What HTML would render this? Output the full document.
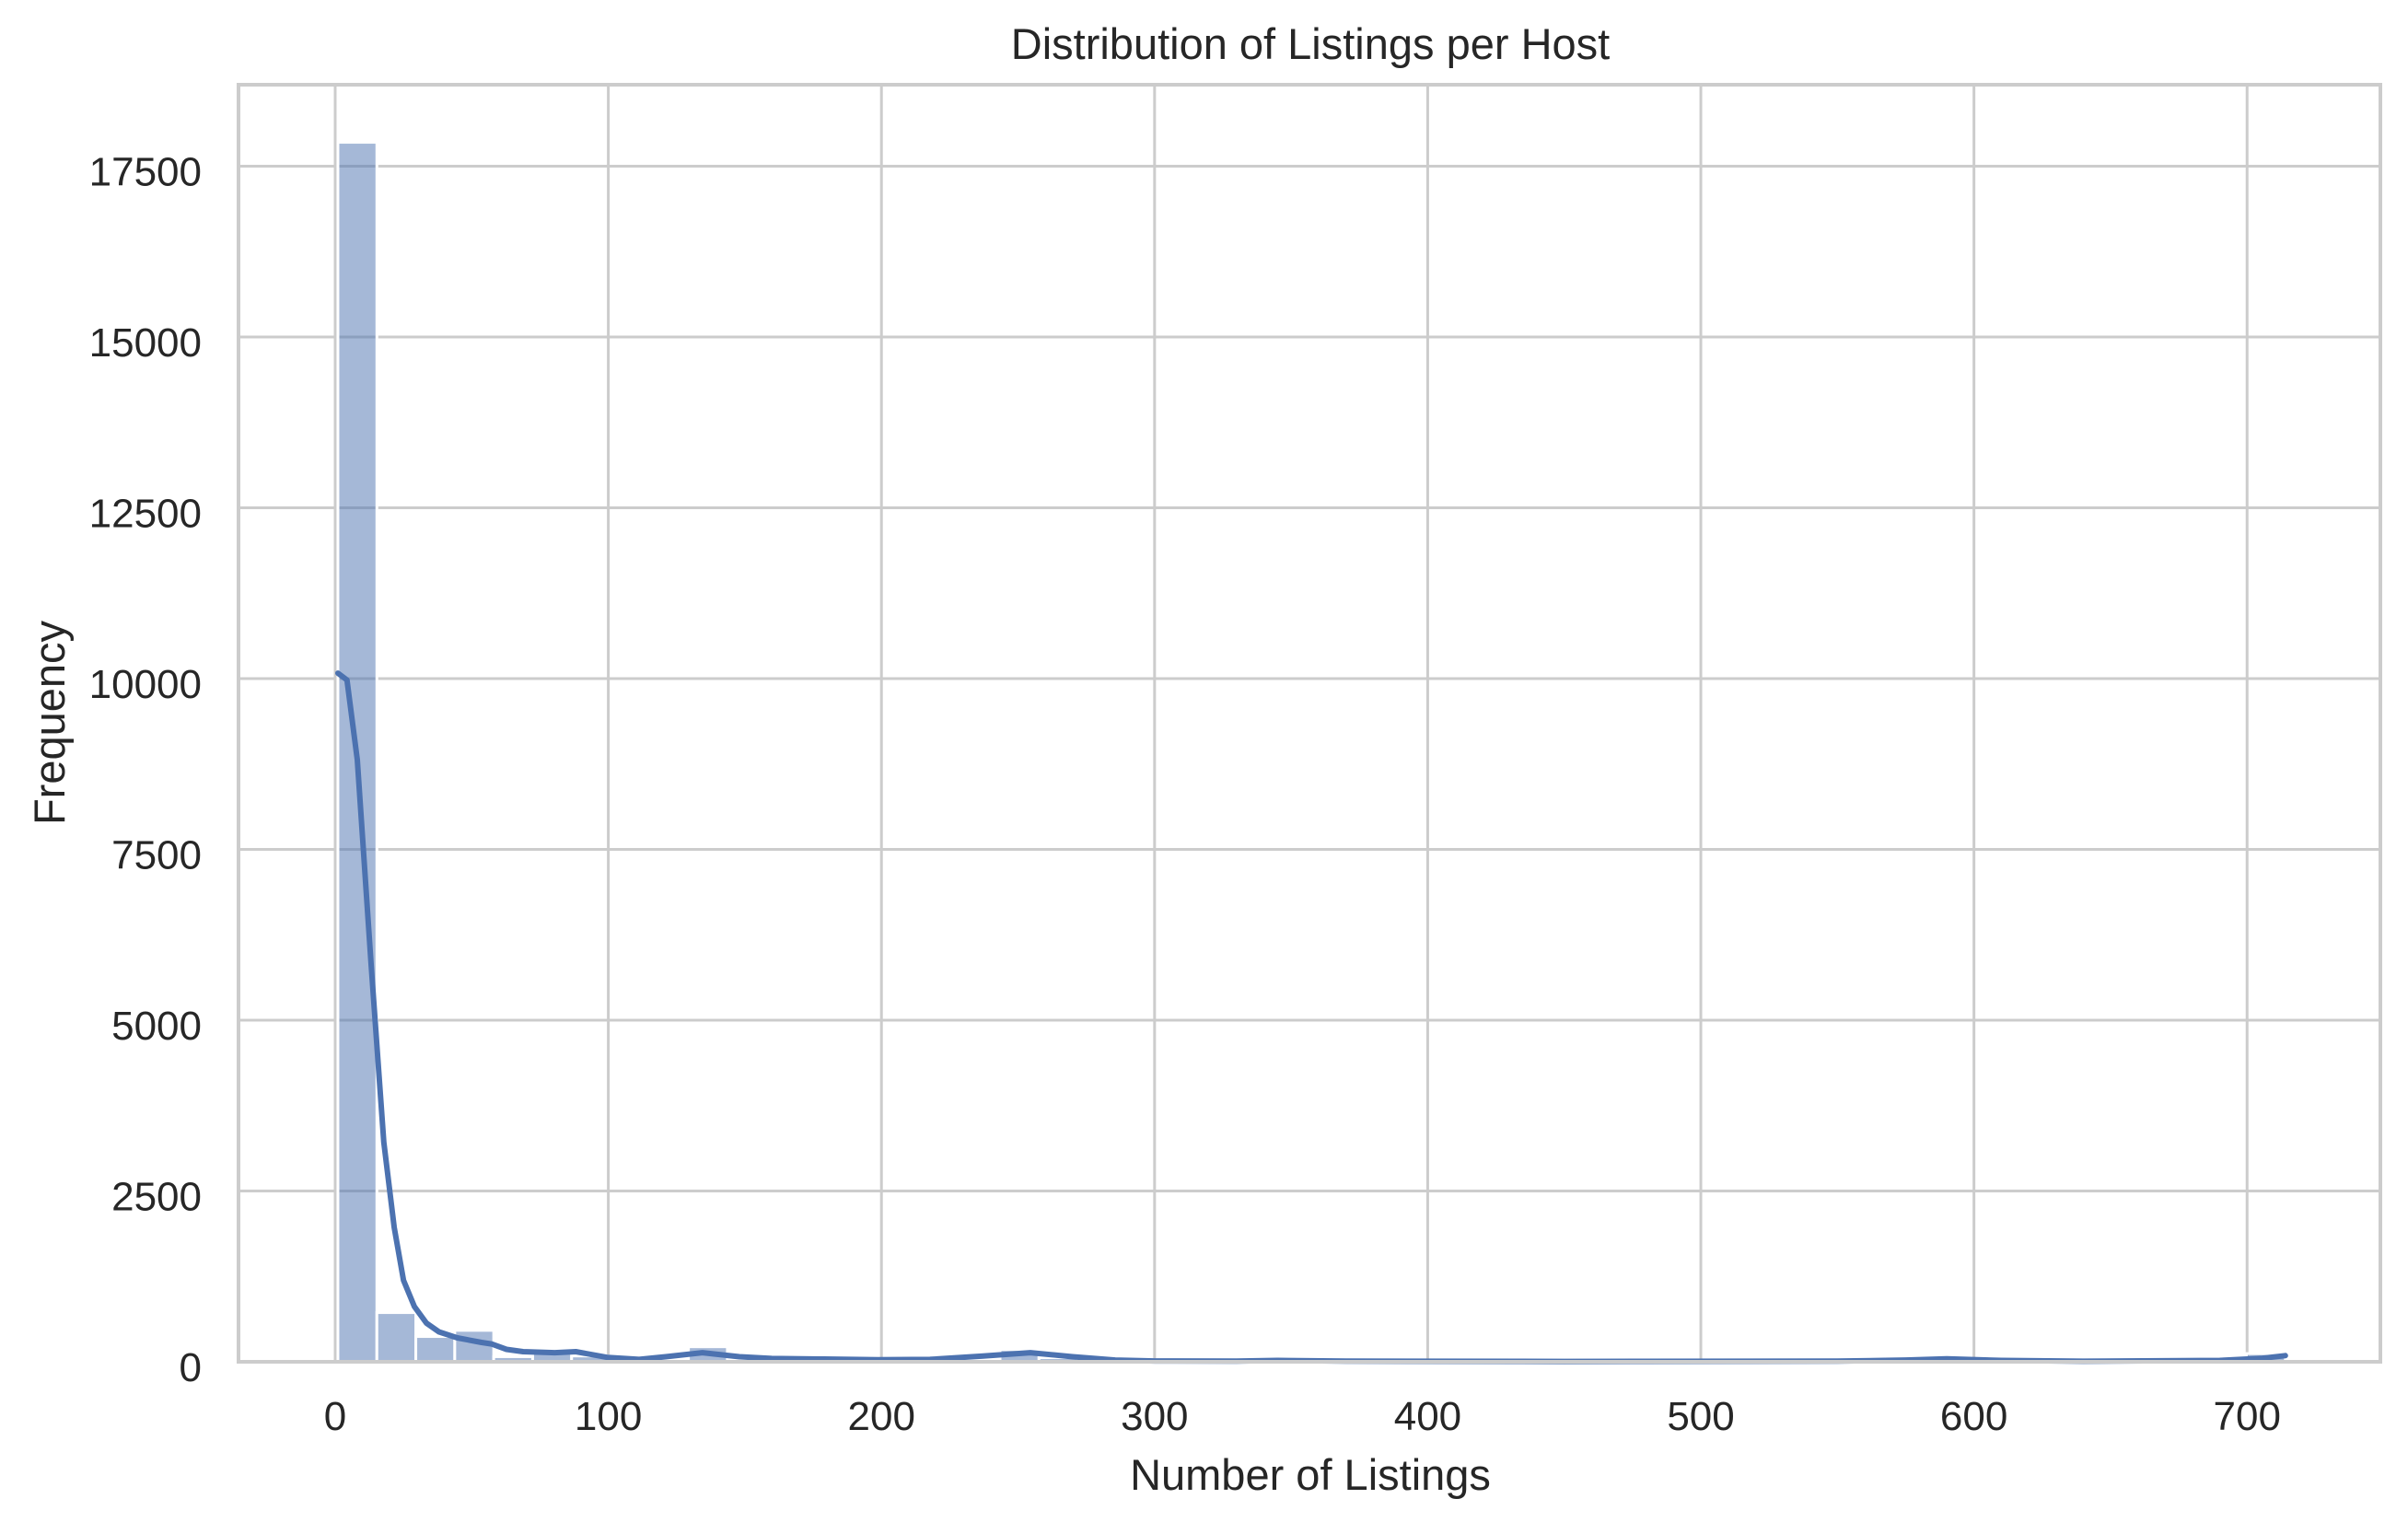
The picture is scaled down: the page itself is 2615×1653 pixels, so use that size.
<!DOCTYPE html>
<html>
<head>
<meta charset="utf-8">
<style>
  html,body{margin:0;padding:0;background:#fff;}
  svg{display:block;}
  text{font-family:"Liberation Sans",Arial,sans-serif;fill:#262626;}
</style>
</head>
<body>
<svg id="chart" width="2615" height="1653" viewBox="0 0 2615 1653" xmlns="http://www.w3.org/2000/svg">
  <rect x="0" y="0" width="2615" height="1653" fill="#ffffff"/>
  <g id="grid"></g>
  <g id="bars"></g>
  <g id="kde"></g>
  <g id="spines"></g>
  <g id="xticks"></g>
  <g id="yticks"></g>
  <text x="1423" y="64" font-size="47" text-anchor="middle">Distribution of Listings per Host</text>
  <text x="1423" y="1618" font-size="47" text-anchor="middle">Number of Listings</text>
  <text x="0" y="0" font-size="47" text-anchor="middle" transform="translate(70,785) rotate(-90)">Frequency</text>
</svg>
<script>
const binStart = 1;
const binEnd = 714;
const binCounts = [17850, 720, 370, 460, 75, 150, 85, 10, 20, 220,
  20, 8, 5, 4, 3, 3, 40, 180, 60, 10,
  3, 2, 2, 8, 2, 2, 2, 2, 2, 2,
  2, 2, 2, 2, 2, 2, 2, 2, 2, 2,
  8, 2, 2, 2, 2, 2, 2, 2, 2, 120];
const kdeX = [1, 4.3, 8.1, 13.2, 17.8, 21.6, 25, 29, 33.4, 38, 44.7, 53.6, 57.2, 62.7, 68.8, 80.4, 88.1, 99.8, 111.3, 121, 134.5, 148, 159.8, 179, 198.6, 217.8, 237.2, 254.5, 270, 285.6, 300, 330, 345, 370, 450, 550, 575, 590, 610, 640, 690, 705, 714];
const kdeY = [10080, 9980, 8814, 5780, 3215, 1967, 1193, 808, 566, 438, 350, 283, 262, 182, 148, 134, 148, 64, 35, 74, 134, 74, 49, 40, 30, 35, 84, 134, 74, 25, 12, 10, 20, 10, 5, 10, 25, 45, 20, 8, 20, 50, 90];
const xTicks = [0, 100, 200, 300, 400, 500, 600, 700];
const yTicks = [0, 2500, 5000, 7500, 10000, 12500, 15000, 17500];

const NS = "http://www.w3.org/2000/svg";
const plot = {left: 259, right: 2585, top: 92, bottom: 1479};
const xMin = -35.4, xMax = 748.8, yMin = 0, yMax = 18693;
function xs(v){ return plot.left + (v - xMin) / (xMax - xMin) * (plot.right - plot.left); }
function ys(v){ return plot.bottom - (v - yMin) / (yMax - yMin) * (plot.bottom - plot.top); }
function mk(tag, attrs){ const e = document.createElementNS(NS, tag); for (const k in attrs) e.setAttribute(k, attrs[k]); return e; }

const grid = document.getElementById('grid');
xTicks.forEach(t => {
  const l = mk('line', {x1: xs(t), x2: xs(t), y1: plot.top, y2: plot.bottom, stroke: '#cccccc', 'stroke-width': 3});
  
  
  grid.appendChild(l);
  const tx = mk('text', {x: xs(t), y: 1553, 'font-size': 44, 'text-anchor': 'middle'});
  tx.textContent = t;
  
  
  document.getElementById('xticks').appendChild(tx);
});
yTicks.forEach(t => {
  const l = mk('line', {x1: plot.left, x2: plot.right, y1: ys(t), y2: ys(t), stroke: '#cccccc', 'stroke-width': 3});
  
  
  grid.appendChild(l);
  const tx = mk('text', {x: 219, y: ys(t) + 21, 'font-size': 44, 'text-anchor': 'end'});
  tx.textContent = t;
  
  
  document.getElementById('yticks').appendChild(tx);
});

const bw = (binEnd - binStart) / binCounts.length;
const bars = document.getElementById('bars');
binCounts.forEach((c, i) => {
  const x0 = xs(binStart + i * bw), x1 = xs(binStart + (i + 1) * bw);
  const r = mk('rect', {x: x0, y: ys(c), width: x1 - x0, height: ys(0) - ys(c), fill: 'rgba(76,114,176,0.5)', stroke: '#ffffff', 'stroke-width': 3});
  
  
  bars.appendChild(r);
});

let d = '';
kdeX.forEach((v, i) => { d += (i ? 'L' : 'M') + xs(v).toFixed(1) + ',' + ys(kdeY[i]).toFixed(1); });
const path = mk('path', {d: d, fill: 'none', stroke: '#4c72b0', 'stroke-width': 6, 'stroke-linejoin': 'round', 'stroke-linecap': 'round'});


document.getElementById('kde').appendChild(path);

const frame = mk('rect', {x: plot.left, y: plot.top, width: plot.right - plot.left, height: plot.bottom - plot.top, fill: 'none', stroke: '#cccccc', 'stroke-width': 4});


document.getElementById('spines').appendChild(frame);
</script>
</body>
</html>
